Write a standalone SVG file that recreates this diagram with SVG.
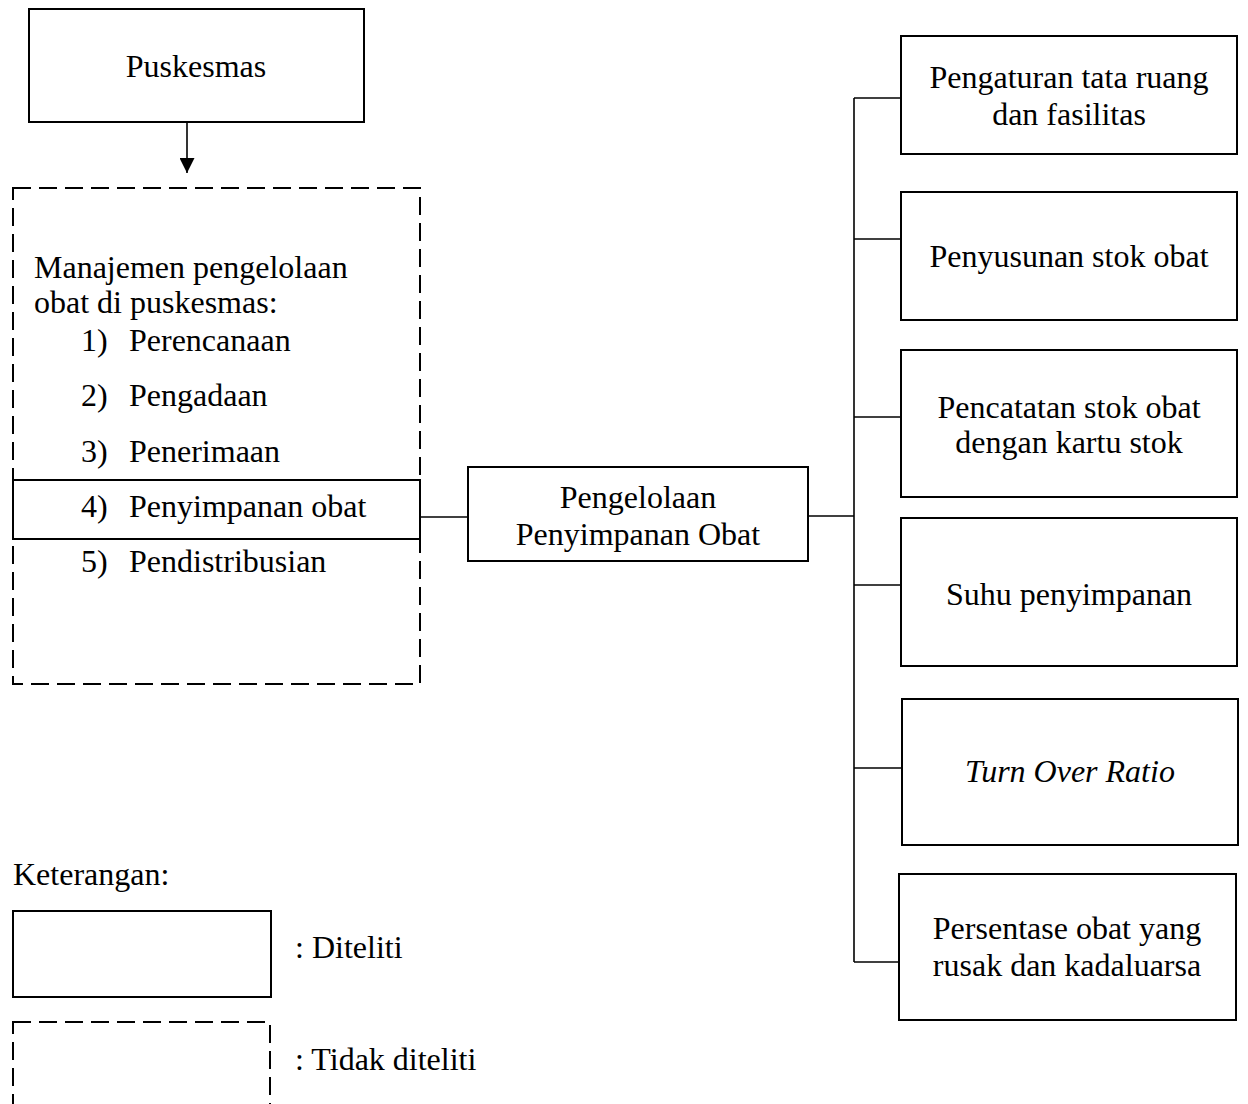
<svg xmlns="http://www.w3.org/2000/svg" width="1248" height="1104" viewBox="0 0 1248 1104">
<style>
text{font-family:"Liberation Serif","Times New Roman",serif;font-size:32px;fill:#000}
.c{text-anchor:middle}
.box{fill:none;stroke:#000;stroke-width:2}
.dash{fill:none;stroke:#000;stroke-width:2;stroke-dasharray:18 8}
.ln{fill:none;stroke:#000;stroke-width:1.6}
</style>
<defs>
<marker id="arr" viewBox="0 0 10 10" refX="10" refY="5" markerWidth="15" markerHeight="15" markerUnits="userSpaceOnUse" orient="auto">
<path d="M0,0 L10,5 L0,10 z" fill="#000"/>
</marker>
</defs>
<rect width="1248" height="1104" fill="#fff"/>
<g id="connectors">
<line class="ln" x1="187" y1="122" x2="187" y2="173" marker-end="url(#arr)"/>
<line class="ln" x1="420" y1="517" x2="468" y2="517"/>
<line class="ln" x1="808" y1="516" x2="854" y2="516"/>
<line class="ln" x1="854" y1="98" x2="854" y2="962"/>
<line class="ln" x1="854" y1="98" x2="901" y2="98"/>
<line class="ln" x1="854" y1="239" x2="901" y2="239"/>
<line class="ln" x1="854" y1="417" x2="901" y2="417"/>
<line class="ln" x1="854" y1="585" x2="901" y2="585"/>
<line class="ln" x1="854" y1="768" x2="902" y2="768"/>
<line class="ln" x1="854" y1="962" x2="899" y2="962"/>
</g>
<g id="puskesmas">
<rect class="box" x="29" y="9" width="335" height="113"/>
<text class="c" x="196" y="77">Puskesmas</text>
</g>
<g id="manajemen">
<rect class="dash" x="13" y="188" width="407" height="496"/>
<text x="34" y="278">Manajemen pengelolaan</text>
<text x="34" y="313">obat di puskesmas:</text>
<text x="81" y="351">1)</text><text x="129" y="351">Perencanaan</text>
<text x="81" y="406">2)</text><text x="129" y="406">Pengadaan</text>
<text x="81" y="462">3)</text><text x="129" y="462">Penerimaan</text>
<text x="81" y="572">5)</text><text x="129" y="572">Pendistribusian</text>
</g>
<g id="penyimpanan-obat">
<rect class="box" x="13" y="480" width="407" height="59"/>
<text x="81" y="517">4)</text><text x="129" y="517">Penyimpanan obat</text>
</g>
<g id="pengelolaan">
<rect class="box" x="468" y="467" width="340" height="94"/>
<text class="c" x="638" y="508">Pengelolaan</text>
<text class="c" x="638" y="545">Penyimpanan Obat</text>
</g>
<g id="tata-ruang">
<rect class="box" x="901" y="36" width="336" height="118"/>
<text class="c" x="1069" y="88">Pengaturan tata ruang</text>
<text class="c" x="1069" y="125">dan fasilitas</text>
</g>
<g id="penyusunan">
<rect class="box" x="901" y="192" width="336" height="128"/>
<text class="c" x="1069" y="267">Penyusunan stok obat</text>
</g>
<g id="pencatatan">
<rect class="box" x="901" y="350" width="336" height="147"/>
<text class="c" x="1069" y="418">Pencatatan stok obat</text>
<text class="c" x="1069" y="453">dengan kartu stok</text>
</g>
<g id="suhu">
<rect class="box" x="901" y="518" width="336" height="148"/>
<text class="c" x="1069" y="605">Suhu penyimpanan</text>
</g>
<g id="tor">
<rect class="box" x="902" y="699" width="336" height="146"/>
<text class="c" x="1070" y="782" font-style="italic">Turn Over Ratio</text>
</g>
<g id="persentase">
<rect class="box" x="899" y="874" width="337" height="146"/>
<text class="c" x="1067" y="939">Persentase obat yang</text>
<text class="c" x="1067" y="976">rusak dan kadaluarsa</text>
</g>
<g id="legend">
<text x="13" y="885">Keterangan:</text>
<rect class="box" x="13" y="911" width="258" height="86"/>
<text x="295" y="958">: Diteliti</text>
<rect class="dash" x="13" y="1022" width="257" height="100"/>
<text x="295" y="1070">: Tidak diteliti</text>
</g>
</svg>
